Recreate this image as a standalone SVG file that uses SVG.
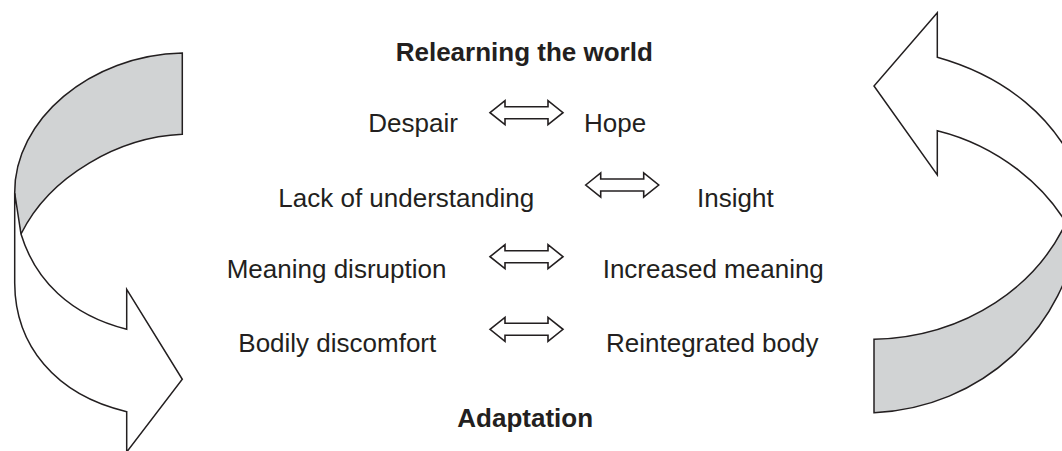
<svg xmlns="http://www.w3.org/2000/svg" xmlns:xlink="http://www.w3.org/1999/xlink" width="1062" height="451" viewBox="0 0 1062 451">
  <style>
    .t { font-family: "Liberation Sans", Arial, sans-serif; font-size: 26px; fill: #231f20; }
    .b { font-weight: bold; }
    .band { fill: #d1d3d4; stroke: #231f20; stroke-width: 1.5; stroke-linejoin: miter; }
    .body { fill: #ffffff; stroke: #231f20; stroke-width: 1.5; stroke-linejoin: miter; }
    .dbl { fill: #ffffff; stroke: #231f20; stroke-width: 1.6; }
  </style>
  <defs>
    <path id="dblArrow" class="dbl" d="M0,0 L15,-12 L15,-6 L58,-6 L58,-12 L73,0 L58,12 L58,6 L15,6 L15,12 Z"/>
  </defs>
  <rect width="1062" height="451" fill="#ffffff"/>

  <g id="left-arrow">
    <path class="band" d="M182.3,53 L182.3,134.3 C120,137 50,175 21,234 Q16,214 14.7,193 C14,120 90,55 182.3,53 Z"/>
    <path class="body" d="M14.7,193 L14.7,283 C15,345 55,395 126.7,411.7 L126.7,452 L182.3,379.3 L126.7,289.3 L126.7,329.3 C70,315 35,280 21,234 Z"/>
  </g>

  <g id="right-arrow">
    <path class="body" d="M937.3,12.7 L874,86 L937.3,175 L937.3,130.7 C995,145 1050,185 1075,240 L1110,240 L1110,190 L1085,190 C1060,115 1000,75 937.3,57.3 Z"/>
    <path class="band" d="M874,339.3 C960,337 1045,290 1075,200 L1090,200 L1090,220 L1080,220 C1068,330 980,408 874,412.7 Z"/>
  </g>

  <g id="title-top"><text class="t b" x="395.7" y="61">Relearning the world</text></g>
  <g id="title-bottom"><text class="t b" x="457.3" y="426.7">Adaptation</text></g>

  <g id="row1-left"><text class="t" x="368.3" y="132">Despair</text></g>
  <g id="row1-right"><text class="t" x="584" y="132">Hope</text></g>
  <g id="row2-left"><text class="t" x="278.3" y="206.5">Lack of understanding</text></g>
  <g id="row2-right"><text class="t" x="697" y="206.5">Insight</text></g>
  <g id="row3-left"><text class="t" x="226.7" y="278.3">Meaning disruption</text></g>
  <g id="row3-right"><text class="t" x="602.7" y="278.3">Increased meaning</text></g>
  <g id="row4-left"><text class="t" x="238.3" y="352">Bodily discomfort</text></g>
  <g id="row4-right"><text class="t" x="606" y="352">Reintegrated body</text></g>

  <g id="connectors">
    <use xlink:href="#dblArrow" href="#dblArrow" transform="translate(490,112.7)"/>
    <use xlink:href="#dblArrow" href="#dblArrow" transform="translate(585.7,185)"/>
    <use xlink:href="#dblArrow" href="#dblArrow" transform="translate(490,256.7)"/>
    <use xlink:href="#dblArrow" href="#dblArrow" transform="translate(490,329.3)"/>
  </g>
</svg>
